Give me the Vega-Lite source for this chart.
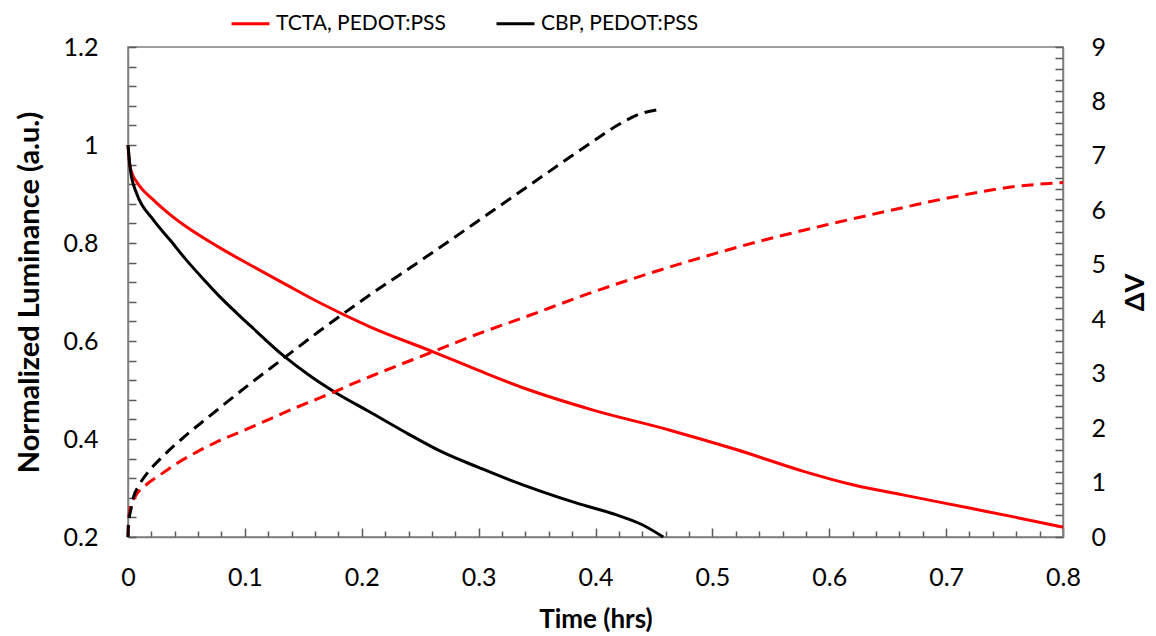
{
  "$schema": "https://vega.github.io/schema/vega-lite/v6.json",
  "autosize": {"type": "none"},
  "padding": {"left": 128, "top": 47, "right": 93, "bottom": 99},
  "width": 935,
  "height": 490,
  "background": "white",
  "config": {
    "font": "Lato",
    "view": {"stroke": "#7f7f7f", "strokeWidth": 1.5},
    "axis": {
      "grid": false,
      "domainColor": "#7f7f7f",
      "domainWidth": 1.5,
      "tickColor": "#595959",
      "tickWidth": 1.5,
      "labelFont": "Lato",
      "labelFontSize": 25,
      "labelColor": "#000000",
      "labelOverlap": false,
      "labelBound": false,
      "labelFlush": false,
      "titleFont": "Lato",
      "titleFontSize": 29,
      "titleFontWeight": "bold",
      "titleColor": "#000000"
    },
    "legend": {
      "labelFont": "Lato",
      "labelFontSize": 21,
      "labelColor": "#000000",
      "labelLimit": 0
    }
  },
  "data": {
    "values": [
      {"s": "TCTA, PEDOT:PSS", "k": "L", "t": 0, "v": 1.0},
      {"s": "TCTA, PEDOT:PSS", "k": "L", "t": 0.0012, "v": 0.965},
      {"s": "TCTA, PEDOT:PSS", "k": "L", "t": 0.003, "v": 0.945},
      {"s": "TCTA, PEDOT:PSS", "k": "L", "t": 0.0074, "v": 0.925},
      {"s": "TCTA, PEDOT:PSS", "k": "L", "t": 0.0217, "v": 0.888},
      {"s": "TCTA, PEDOT:PSS", "k": "L", "t": 0.036, "v": 0.858},
      {"s": "TCTA, PEDOT:PSS", "k": "L", "t": 0.05, "v": 0.833},
      {"s": "TCTA, PEDOT:PSS", "k": "L", "t": 0.0787, "v": 0.79},
      {"s": "TCTA, PEDOT:PSS", "k": "L", "t": 0.107, "v": 0.752},
      {"s": "TCTA, PEDOT:PSS", "k": "L", "t": 0.136, "v": 0.714},
      {"s": "TCTA, PEDOT:PSS", "k": "L", "t": 0.164, "v": 0.678},
      {"s": "TCTA, PEDOT:PSS", "k": "L", "t": 0.207, "v": 0.629},
      {"s": "TCTA, PEDOT:PSS", "k": "L", "t": 0.261, "v": 0.578},
      {"s": "TCTA, PEDOT:PSS", "k": "L", "t": 0.3, "v": 0.54},
      {"s": "TCTA, PEDOT:PSS", "k": "L", "t": 0.341, "v": 0.502},
      {"s": "TCTA, PEDOT:PSS", "k": "L", "t": 0.398, "v": 0.459},
      {"s": "TCTA, PEDOT:PSS", "k": "L", "t": 0.4637, "v": 0.418},
      {"s": "TCTA, PEDOT:PSS", "k": "L", "t": 0.521, "v": 0.378},
      {"s": "TCTA, PEDOT:PSS", "k": "L", "t": 0.578, "v": 0.334},
      {"s": "TCTA, PEDOT:PSS", "k": "L", "t": 0.621, "v": 0.306},
      {"s": "TCTA, PEDOT:PSS", "k": "L", "t": 0.663, "v": 0.286},
      {"s": "TCTA, PEDOT:PSS", "k": "L", "t": 0.72, "v": 0.259},
      {"s": "TCTA, PEDOT:PSS", "k": "L", "t": 0.76, "v": 0.24},
      {"s": "TCTA, PEDOT:PSS", "k": "L", "t": 0.8, "v": 0.22},

      {"s": "CBP, PEDOT:PSS", "k": "L", "t": 0, "v": 1.0},
      {"s": "CBP, PEDOT:PSS", "k": "L", "t": 0.0017, "v": 0.956},
      {"s": "CBP, PEDOT:PSS", "k": "L", "t": 0.003, "v": 0.935},
      {"s": "CBP, PEDOT:PSS", "k": "L", "t": 0.0074, "v": 0.901},
      {"s": "CBP, PEDOT:PSS", "k": "L", "t": 0.0217, "v": 0.847},
      {"s": "CBP, PEDOT:PSS", "k": "L", "t": 0.036, "v": 0.806},
      {"s": "CBP, PEDOT:PSS", "k": "L", "t": 0.05, "v": 0.765},
      {"s": "CBP, PEDOT:PSS", "k": "L", "t": 0.065, "v": 0.725},
      {"s": "CBP, PEDOT:PSS", "k": "L", "t": 0.0787, "v": 0.69},
      {"s": "CBP, PEDOT:PSS", "k": "L", "t": 0.093, "v": 0.657},
      {"s": "CBP, PEDOT:PSS", "k": "L", "t": 0.107, "v": 0.626},
      {"s": "CBP, PEDOT:PSS", "k": "L", "t": 0.133, "v": 0.57},
      {"s": "CBP, PEDOT:PSS", "k": "L", "t": 0.155, "v": 0.53},
      {"s": "CBP, PEDOT:PSS", "k": "L", "t": 0.176, "v": 0.497},
      {"s": "CBP, PEDOT:PSS", "k": "L", "t": 0.207, "v": 0.455},
      {"s": "CBP, PEDOT:PSS", "k": "L", "t": 0.24, "v": 0.41},
      {"s": "CBP, PEDOT:PSS", "k": "L", "t": 0.27, "v": 0.372},
      {"s": "CBP, PEDOT:PSS", "k": "L", "t": 0.3, "v": 0.342},
      {"s": "CBP, PEDOT:PSS", "k": "L", "t": 0.327, "v": 0.316},
      {"s": "CBP, PEDOT:PSS", "k": "L", "t": 0.384, "v": 0.269},
      {"s": "CBP, PEDOT:PSS", "k": "L", "t": 0.418, "v": 0.245},
      {"s": "CBP, PEDOT:PSS", "k": "L", "t": 0.44, "v": 0.225},
      {"s": "CBP, PEDOT:PSS", "k": "L", "t": 0.458, "v": 0.2},

      {"s": "TCTA, PEDOT:PSS", "k": "V", "t": 0, "v": 0},
      {"s": "TCTA, PEDOT:PSS", "k": "V", "t": 0.0005, "v": 0.3},
      {"s": "TCTA, PEDOT:PSS", "k": "V", "t": 0.002, "v": 0.55},
      {"s": "TCTA, PEDOT:PSS", "k": "V", "t": 0.006, "v": 0.74},
      {"s": "TCTA, PEDOT:PSS", "k": "V", "t": 0.015, "v": 0.95},
      {"s": "TCTA, PEDOT:PSS", "k": "V", "t": 0.0274, "v": 1.14},
      {"s": "TCTA, PEDOT:PSS", "k": "V", "t": 0.0417, "v": 1.35},
      {"s": "TCTA, PEDOT:PSS", "k": "V", "t": 0.0587, "v": 1.56},
      {"s": "TCTA, PEDOT:PSS", "k": "V", "t": 0.0744, "v": 1.73},
      {"s": "TCTA, PEDOT:PSS", "k": "V", "t": 0.0916, "v": 1.89},
      {"s": "TCTA, PEDOT:PSS", "k": "V", "t": 0.109, "v": 2.05},
      {"s": "TCTA, PEDOT:PSS", "k": "V", "t": 0.126, "v": 2.21},
      {"s": "TCTA, PEDOT:PSS", "k": "V", "t": 0.143, "v": 2.37},
      {"s": "TCTA, PEDOT:PSS", "k": "V", "t": 0.16, "v": 2.52},
      {"s": "TCTA, PEDOT:PSS", "k": "V", "t": 0.177, "v": 2.67},
      {"s": "TCTA, PEDOT:PSS", "k": "V", "t": 0.194, "v": 2.83},
      {"s": "TCTA, PEDOT:PSS", "k": "V", "t": 0.211, "v": 2.98},
      {"s": "TCTA, PEDOT:PSS", "k": "V", "t": 0.263, "v": 3.42},
      {"s": "TCTA, PEDOT:PSS", "k": "V", "t": 0.297, "v": 3.71},
      {"s": "TCTA, PEDOT:PSS", "k": "V", "t": 0.341, "v": 4.05},
      {"s": "TCTA, PEDOT:PSS", "k": "V", "t": 0.398, "v": 4.5},
      {"s": "TCTA, PEDOT:PSS", "k": "V", "t": 0.4637, "v": 4.96},
      {"s": "TCTA, PEDOT:PSS", "k": "V", "t": 0.5436, "v": 5.45},
      {"s": "TCTA, PEDOT:PSS", "k": "V", "t": 0.597, "v": 5.73},
      {"s": "TCTA, PEDOT:PSS", "k": "V", "t": 0.6505, "v": 5.99},
      {"s": "TCTA, PEDOT:PSS", "k": "V", "t": 0.7047, "v": 6.24},
      {"s": "TCTA, PEDOT:PSS", "k": "V", "t": 0.76, "v": 6.44},
      {"s": "TCTA, PEDOT:PSS", "k": "V", "t": 0.8, "v": 6.51},

      {"s": "CBP, PEDOT:PSS", "k": "V", "t": 0, "v": 0},
      {"s": "CBP, PEDOT:PSS", "k": "V", "t": 0.0003, "v": 0.2},
      {"s": "CBP, PEDOT:PSS", "k": "V", "t": 0.003, "v": 0.56},
      {"s": "CBP, PEDOT:PSS", "k": "V", "t": 0.0045, "v": 0.72},
      {"s": "CBP, PEDOT:PSS", "k": "V", "t": 0.0089, "v": 0.93},
      {"s": "CBP, PEDOT:PSS", "k": "V", "t": 0.016, "v": 1.16},
      {"s": "CBP, PEDOT:PSS", "k": "V", "t": 0.0288, "v": 1.46},
      {"s": "CBP, PEDOT:PSS", "k": "V", "t": 0.046, "v": 1.8},
      {"s": "CBP, PEDOT:PSS", "k": "V", "t": 0.0744, "v": 2.3},
      {"s": "CBP, PEDOT:PSS", "k": "V", "t": 0.103, "v": 2.79},
      {"s": "CBP, PEDOT:PSS", "k": "V", "t": 0.133, "v": 3.28},
      {"s": "CBP, PEDOT:PSS", "k": "V", "t": 0.163, "v": 3.77},
      {"s": "CBP, PEDOT:PSS", "k": "V", "t": 0.1985, "v": 4.32},
      {"s": "CBP, PEDOT:PSS", "k": "V", "t": 0.2555, "v": 5.15},
      {"s": "CBP, PEDOT:PSS", "k": "V", "t": 0.3126, "v": 6.0},
      {"s": "CBP, PEDOT:PSS", "k": "V", "t": 0.3696, "v": 6.85},
      {"s": "CBP, PEDOT:PSS", "k": "V", "t": 0.398, "v": 7.27},
      {"s": "CBP, PEDOT:PSS", "k": "V", "t": 0.421, "v": 7.59},
      {"s": "CBP, PEDOT:PSS", "k": "V", "t": 0.438, "v": 7.77},
      {"s": "CBP, PEDOT:PSS", "k": "V", "t": 0.457, "v": 7.86}
    ]
  },
  "encoding": {
    "x": {
      "field": "t",
      "type": "quantitative",
      "title": "Time (hrs)",
      "scale": {"domain": [0, 0.8], "nice": false, "zero": false},
      "axis": {
        "values": [0, 0.02, 0.04, 0.06, 0.08, 0.1, 0.12, 0.14, 0.16, 0.18, 0.2, 0.22, 0.24, 0.26, 0.28, 0.3, 0.32, 0.34, 0.36, 0.38, 0.4, 0.42, 0.44, 0.46, 0.48, 0.5, 0.52, 0.54, 0.56, 0.58, 0.6, 0.62, 0.64, 0.66, 0.68, 0.7, 0.72, 0.74, 0.76, 0.78, 0.8],
        "labelExpr": "abs(datum.value * 10 - round(datum.value * 10)) < 0.001 ? format(datum.value, '~g') : ''",
        "tickSize": {"condition": {"test": "abs(datum.value * 10 - round(datum.value * 10)) < 0.001", "value": -9}, "value": -6},
        "labelPadding": 37,
        "titleFontSize": 26,
        "titlePadding": 13
      }
    },
    "color": {
      "field": "s",
      "type": "nominal",
      "scale": {"domain": ["TCTA, PEDOT:PSS", "CBP, PEDOT:PSS"], "range": ["#ff0000", "#000000"]},
      "legend": {
        "title": null,
        "orient": "none",
        "direction": "horizontal",
        "legendX": 102,
        "legendY": -44,
        "symbolType": "stroke",
        "symbolSize": 1444,
        "symbolStrokeWidth": 3,
        "symbolDash": [],
        "labelOffset": 5,
        "columnPadding": 44
      }
    }
  },
  "layer": [
    {
      "transform": [{"filter": "datum.k === 'L'"}],
      "mark": {"type": "line", "strokeWidth": 3, "interpolate": "monotone"},
      "encoding": {
        "y": {
          "field": "v",
          "type": "quantitative",
          "title": "Normalized Luminance (a.u.)",
          "scale": {"domain": [0.2, 1.2], "nice": false, "zero": false},
          "axis": {
            "orient": "left",
            "values": [0.2, 0.24, 0.28, 0.32, 0.36, 0.4, 0.44, 0.48, 0.52, 0.56, 0.6, 0.64, 0.68, 0.72, 0.76, 0.8, 0.84, 0.88, 0.92, 0.96, 1.0, 1.04, 1.08, 1.12, 1.16, 1.2],
            "labelExpr": "abs(datum.value * 5 - round(datum.value * 5)) < 0.001 ? format(datum.value, '~g') : ''",
            "tickSize": -8,
            "labelPadding": 38,
            "titlePadding": 19
          }
        }
      }
    },
    {
      "transform": [{"filter": "datum.k === 'V'"}],
      "mark": {"type": "line", "strokeWidth": 3, "strokeDash": [12, 7], "interpolate": "monotone"},
      "encoding": {
        "y": {
          "field": "v",
          "type": "quantitative",
          "title": "ΔV",
          "scale": {"domain": [0, 9], "nice": false, "zero": false},
          "axis": {
            "orient": "right",
            "values": [0, 0.2, 0.4, 0.6, 0.8, 1, 1.2, 1.4, 1.6, 1.8, 2, 2.2, 2.4, 2.6, 2.8, 3, 3.2, 3.4, 3.6, 3.8, 4, 4.2, 4.4, 4.6, 4.8, 5, 5.2, 5.4, 5.6, 5.8, 6, 6.2, 6.4, 6.6, 6.8, 7, 7.2, 7.4, 7.6, 7.8, 8, 8.2, 8.4, 8.6, 8.8, 9],
            "labelExpr": "abs(datum.value - round(datum.value)) < 0.001 ? format(datum.value, '~g') : ''",
            "tickSize": -8,
            "labelPadding": 36,
            "titleFontSize": 27,
            "titlePadding": 44,
            "titleAngle": 270
          }
        }
      }
    }
  ],
  "resolve": {"scale": {"y": "independent"}, "axis": {"y": "independent"}}
}
